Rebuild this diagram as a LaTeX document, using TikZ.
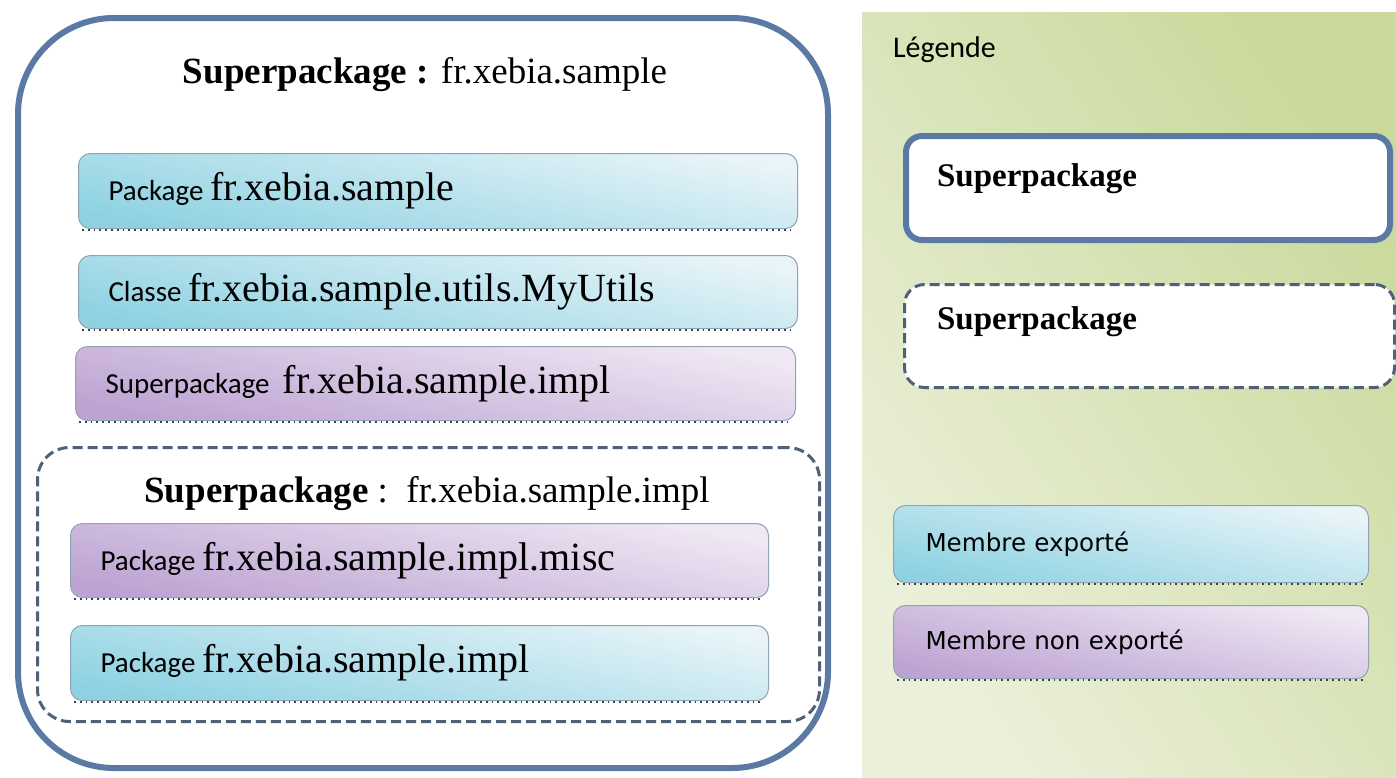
\documentclass[tikz,border=0pt]{standalone}
\usepackage{fontspec}
\setmainfont{Liberation Serif}
\newfontfamily\calfont{Carlito}
\newfontfamily\dvfont{DejaVu Sans}
\definecolor{frame}{HTML}{5A7AA3}
\definecolor{dashc}{HTML}{4F6178}
\definecolor{edge}{HTML}{8FA3B3}
\definecolor{dotc}{HTML}{3A4450}
\definecolor{cyanD}{HTML}{8ED2E2}
\definecolor{cyanL}{HTML}{E8F4F8}
\definecolor{purD}{HTML}{BDA3D2}
\definecolor{purL}{HTML}{F0E8F4}
\definecolor{greenL}{HTML}{EBF0DA}
\definecolor{greenD}{HTML}{CAD99C}
\newcommand\sanspart[1]{{\calfont\fontsize{14.5}{17}\selectfont #1}}
\newcommand\serifpart[1]{{\fontsize{20}{23}\selectfont #1}}
\tikzset{
  memberbox/.style={anchor=north west, rounded corners=6pt, draw=edge, line width=0.5pt,
    inner xsep=15pt, inner ysep=0pt, align=left},
  exported/.style={memberbox, shading=axis, top color=cyanL, bottom color=cyanD, shading angle=-12},
  hidden/.style={memberbox, shading=axis, top color=purL, bottom color=purD, shading angle=-12},
  dotline/.style={dotted, line width=0.9pt, dotc},
  superbox/.style={anchor=north west, draw=frame, line width=3pt, fill=white, inner sep=0pt},
  dashbox/.style={anchor=north west, draw=dashc, line width=1.5pt, dash pattern=on 5pt off 2.5pt, fill=white, inner sep=0pt},
  titletext/.style={font=\fontsize{18.5}{22}\selectfont},
  legtext/.style={font=\dvfont\fontsize{12.3}{15}\selectfont},
  legsuper/.style={anchor=west, font=\fontsize{16.5}{20}\selectfont\bfseries}
}
\begin{document}
\begin{tikzpicture}[x=0.5pt,y=-0.5pt]
\path[use as bounding box] (0,0) rectangle (1396,777);
\fill[white] (0,0) rectangle (1396,777);

% ---------- left: superpackage ----------
\node[superbox, rounded corners=48pt, minimum width=405pt, minimum height=375pt] (outer) at (15,15) {};
\node[titletext] (t1) at (425,75) {\textbf{Superpackage :} fr.xebia.sample};

\node[exported, text width=329.5pt, minimum height=37.5pt] (b1) at (78,153)
  {\sanspart{Package} \serifpart{fr.xebia.sample}};
\node[exported, text width=329.5pt, minimum height=36.5pt] (b2) at (78,255)
  {\sanspart{Classe} \serifpart{fr.xebia.sample.utils.MyUtils}};
\node[hidden, text width=330pt, minimum height=37pt] (b3) at (75,346)
  {\sanspart{Superpackage}\ \ \serifpart{fr.xebia.sample.impl}};

\node[dashbox, rounded corners=16pt, minimum width=391pt, minimum height=137pt] (inner) at (36,446) {};
\node[titletext] (t2) at (427,494) {\textbf{Superpackage} :\ \ fr.xebia.sample.impl};

\node[hidden, text width=319pt, minimum height=37pt] (b4) at (70,523)
  {\sanspart{Package} \serifpart{fr.xebia.sample.impl.misc}};
\node[exported, text width=319pt, minimum height=37.5pt] (b5) at (70,625)
  {\sanspart{Package} \serifpart{fr.xebia.sample.impl}};

\foreach \b in {b1,b2,b3,b4,b5}
  \draw[dotline] ([xshift=2pt,yshift=-0.5pt]\b.south west) -- ([xshift=-3pt,yshift=-0.5pt]\b.south east);

% ---------- right: legend ----------
\node[anchor=north west, inner sep=0pt, minimum width=267pt, minimum height=382.5pt,
      shading=axis, left color=greenL, right color=greenD, shading angle=125] (legend) at (862,12) {};
\node[anchor=west, font=\calfont\fontsize{15}{18}\selectfont] (lg) at (886,50) {Légende};

\node[superbox, rounded corners=8pt, minimum width=242pt, minimum height=52pt] (ls) at (903,133) {};
\node[legsuper] (lst) at (930,179) {Superpackage};

\node[dashbox, rounded corners=10pt, minimum width=245pt, minimum height=51.5pt] (ld) at (903,283) {};
\node[legsuper] (ldt) at (930,322) {Superpackage};

\node[exported, legtext, inner xsep=16pt, text width=205.5pt, minimum height=38.5pt] (m1) at (893,505) {Membre exporté};
\node[hidden, legtext, inner xsep=16pt, text width=205.5pt, minimum height=36.5pt] (m2) at (893,605) {Membre non exporté};
\foreach \b in {m1,m2}
  \draw[dotline] ([xshift=2pt,yshift=-0.5pt]\b.south west) -- ([xshift=-3pt,yshift=-0.5pt]\b.south east);
\end{tikzpicture}
\end{document}
